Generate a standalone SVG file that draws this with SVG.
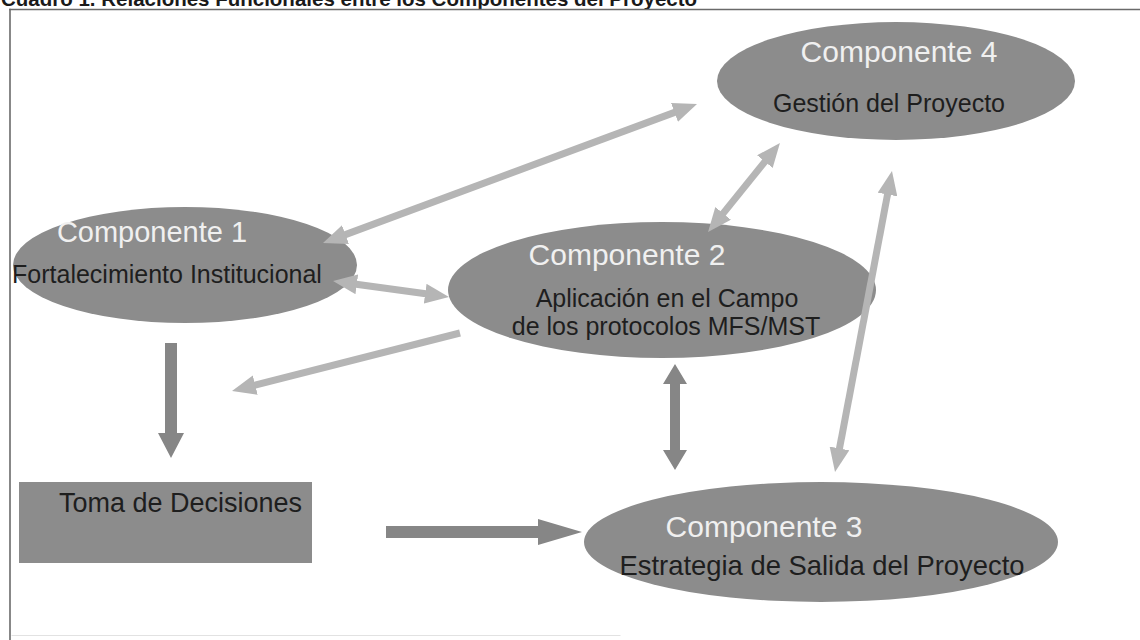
<svg xmlns="http://www.w3.org/2000/svg" width="1140" height="640" viewBox="0 0 1140 640">
<style>
  .node { fill: #8c8c8c; }
  .hd { font-family: "Liberation Sans", Arial, sans-serif; font-size: 30px; fill: #f0f0f0; text-anchor: middle; }
  .lb { font-family: "Liberation Sans", Arial, sans-serif; font-size: 25px; fill: #1e1e1e; text-anchor: middle; }
  .lt { stroke: #b5b5b5; stroke-width: 7; fill: none; }
  .dk { fill: #868686; }
  .title { font-family: "Liberation Sans", Arial, sans-serif; font-size: 20.5px; font-weight: bold; fill: #1a1a1a; }
</style>
<defs>
  <marker id="ah" viewBox="0 0 24 20" refX="8" refY="10" markerWidth="24" markerHeight="20" markerUnits="userSpaceOnUse" orient="auto-start-reverse">
    <path d="M0,0 L24,10 L0,20 z" fill="#b5b5b5"/>
  </marker>
</defs>
<rect x="0" y="0" width="1140" height="640" fill="#ffffff"/>
<text class="title" x="1" y="6">Cuadro 1. Relaciones Funcionales entre los Componentes del Proyecto</text>
<g id="frame" stroke-linecap="square">
  <line x1="10" y1="9.5" x2="1140" y2="9.5" stroke="#6a6a6a" stroke-width="1.6"/>
  <line x1="10" y1="9.5" x2="10" y2="640" stroke="#6a6a6a" stroke-width="1.6"/>
  <line x1="12" y1="635.5" x2="620" y2="635.5" stroke="#e2e2e2" stroke-width="1"/>
</g>
<g id="n-c4">
  <ellipse class="node" cx="896" cy="81" rx="179" ry="59"/>
  <text class="hd" x="899" y="62">Componente 4</text>
  <text class="lb" x="889" y="112">Gestión del Proyecto</text>
</g>
<g id="n-c1">
  <ellipse class="node" cx="185" cy="265" rx="172" ry="58"/>
  <text class="hd" x="152" y="242" style="font-size:29px">Componente 1</text>
  <text class="lb" x="167" y="283">Fortalecimiento Institucional</text>
</g>
<g id="n-c2">
  <ellipse class="node" cx="662" cy="290" rx="214" ry="68"/>
  <text class="hd" x="627" y="265">Componente 2</text>
  <text class="lb" x="667" y="307">Aplicación en el Campo</text>
  <text class="lb" x="666" y="335">de los protocolos MFS/MST</text>
</g>
<g id="n-c3">
  <ellipse class="node" cx="821" cy="542" rx="237" ry="60"/>
  <text class="hd" x="764" y="537">Componente 3</text>
  <text class="lb" x="822" y="575" style="font-size:27.4px">Estrategia de Salida del Proyecto</text>
</g>
<g id="n-toma">
  <rect class="node" x="19" y="482" width="293" height="81" fill="#8e8e8e"/>
  <text class="lb" x="59" y="512" style="font-size:27px;text-anchor:start">Toma de Decisiones</text>
</g>
<g id="connectors">
  <line class="lt" x1="338" y1="237.4" x2="682" y2="109.6" marker-start="url(#ah)" marker-end="url(#ah)"/>
  <line class="lt" x1="348.9" y1="283.2" x2="433.1" y2="294.8" marker-start="url(#ah)" marker-end="url(#ah)"/>
  <line class="lt" x1="460" y1="333" x2="247.5" y2="387.1" marker-end="url(#ah)"/>
  <line class="lt" x1="718.1" y1="219.6" x2="769.9" y2="155.4" marker-start="url(#ah)" marker-end="url(#ah)"/>
  <line class="lt" x1="889" y1="186.7" x2="838" y2="456.3" marker-start="url(#ah)" marker-end="url(#ah)"/>
  <polygon class="dk" points="165,343 177,343 177,433 184,433 171,458 158,433 165,433"/>
  <polygon class="dk" points="386,526 538,526 538,519 582,532 538,545 538,538 386,538"/>
  <polygon class="dk" points="675,364 687,384 680,384 680,450 687,450 675,470 663,450 670,450 670,384 663,384"/>
</g>
</svg>
